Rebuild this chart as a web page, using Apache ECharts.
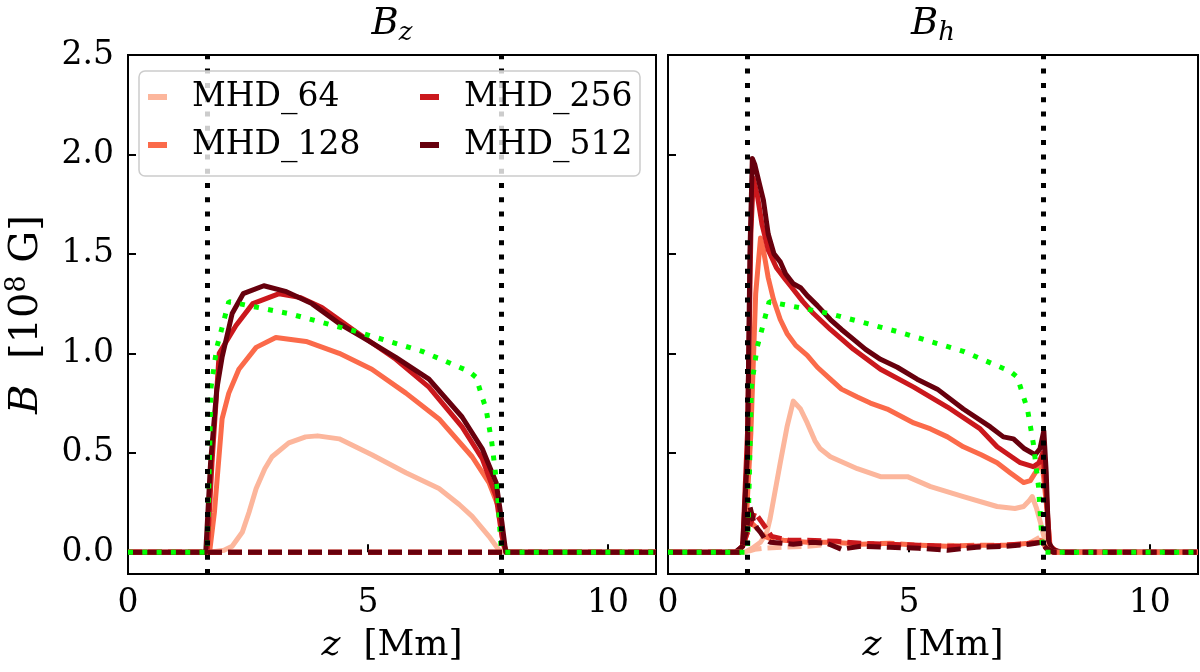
<!DOCTYPE html>
<html>
<head>
    <meta charset="utf-8">
    <title>Bz / Bh profiles</title>
    <script src="https://cdn.jsdelivr.net/npm/echarts@6/dist/echarts.min.js"></script>
</head>
<body style="margin:0;background:#fff;">
    <div id="main" style="width:1200px;height:672px;"></div>
    <script type="text/javascript">
        // ---- data: [z (Mm), B (1e8 G)] ----
        var runNames = ['MHD_64', 'MHD_128', 'MHD_256', 'MHD_512'];
        var runColors = ['#fcb69c', '#fb6a4a', '#cb181d', '#67000d'];

        // left panel, B_z (solid)
        var bz64 = [[0,0],[1.7,0],[2.0,0.01],[2.17,0.03],[2.38,0.1],[2.52,0.2],[2.67,0.32],[2.85,0.42],[3.0,0.48],[3.35,0.55],[3.7,0.58],[3.95,0.585],[4.4,0.57],[5.08,0.49],[5.79,0.40],[6.48,0.32],[6.9,0.24],[7.17,0.18],[7.52,0.08],[7.73,0.01],[7.85,0],[11,0]];
        var bz128 = [[0,0],[1.7,0],[1.8,0.2],[1.96,0.67],[2.1,0.8],[2.31,0.92],[2.67,1.03],[3.08,1.08],[3.71,1.06],[4.4,1.0],[5.08,0.92],[5.79,0.80],[6.48,0.67],[7.17,0.48],[7.52,0.35],[7.73,0.22],[7.83,0.03],[7.9,0],[11,0]];
        var bz256 = [[0,0],[1.65,0],[1.75,0.45],[1.9,1.0],[2.25,1.14],[2.6,1.25],[3.15,1.30],[3.6,1.28],[4.04,1.23],[4.8,1.10],[5.58,0.97],[6.27,0.83],[6.96,0.63],[7.38,0.47],[7.67,0.28],[7.79,0.08],[7.88,0],[11,0]];
        var bz512 = [[0,0],[1.62,0],[1.72,0.45],[1.85,0.82],[1.96,0.98],[2.17,1.2],[2.4,1.3],[2.83,1.34],[3.3,1.31],[3.83,1.25],[4.4,1.15],[4.96,1.07],[5.58,0.98],[6.27,0.87],[6.96,0.68],[7.38,0.52],[7.67,0.35],[7.79,0.15],[7.87,0],[11,0]];
        // left panel, dashed component (flat at zero)
        var bzDashed = [[0,0],[11,0]];

        // right panel, B_h (solid)
        var bh64 = [[0,0],[1.6,0],[1.75,0.02],[1.92,0.05],[2.05,0.1],[2.12,0.17],[2.33,0.45],[2.47,0.63],[2.6,0.76],[2.75,0.72],[2.89,0.65],[3.05,0.56],[3.16,0.52],[3.37,0.48],[3.65,0.45],[3.93,0.42],[4.41,0.38],[4.97,0.38],[5.45,0.33],[6.13,0.28],[6.83,0.23],[7.2,0.22],[7.38,0.23],[7.5,0.26],[7.56,0.28],[7.65,0.22],[7.73,0.15],[7.85,0.03],[7.95,0],[11,0]];
        var bh128 = [[0,0],[1.45,0],[1.6,0.05],[1.72,0.6],[1.82,1.3],[1.92,1.58],[1.98,1.52],[2.08,1.38],[2.19,1.27],[2.33,1.17],[2.47,1.10],[2.65,1.04],[2.89,0.99],[3.1,0.93],[3.37,0.87],[3.6,0.82],[3.93,0.78],[4.2,0.75],[4.55,0.72],[5.1,0.65],[5.45,0.62],[5.8,0.58],[6.13,0.53],[6.5,0.49],[6.83,0.45],[7.1,0.40],[7.38,0.35],[7.52,0.36],[7.65,0.41],[7.76,0.46],[7.85,0.25],[7.93,0.03],[8.1,0],[11,0]];
        var bh256 = [[0,0],[1.4,0],[1.55,0.03],[1.65,0.6],[1.72,1.6],[1.77,1.88],[1.85,1.8],[1.95,1.65],[2.08,1.52],[2.25,1.43],[2.44,1.37],[2.54,1.34],[2.8,1.26],[3.02,1.20],[3.37,1.12],[3.85,1.02],[4.41,0.92],[5.1,0.83],[5.8,0.73],[6.48,0.62],[6.83,0.53],[7.31,0.45],[7.58,0.43],[7.7,0.45],[7.78,0.5],[7.85,0.3],[7.92,0.03],[8.1,0],[11,0]];
        var bh512 = [[0,0],[1.4,0],[1.55,0.03],[1.65,0.5],[1.7,1.5],[1.75,1.98],[1.8,1.95],[1.9,1.85],[1.98,1.77],[2.08,1.6],[2.2,1.5],[2.33,1.46],[2.44,1.40],[2.6,1.35],[2.75,1.33],[2.89,1.29],[3.1,1.24],[3.37,1.17],[3.6,1.12],[3.85,1.07],[4.1,1.02],[4.41,0.97],[4.76,0.93],[5.17,0.87],[5.59,0.82],[6.13,0.72],[6.69,0.63],[6.96,0.58],[7.17,0.57],[7.4,0.52],[7.62,0.49],[7.72,0.52],[7.8,0.61],[7.85,0.4],[7.9,0.05],[8.0,0.01],[8.2,0],[11,0]];
        // right panel, dashed component
        var bhDash64 = [[0,0],[1.6,0],[1.8,0.015],[2.0,0.02],[2.4,0.025],[2.9,0.03],[3.4,0.04],[4.0,0.035],[4.6,0.04],[5.2,0.03],[5.8,0.035],[6.4,0.03],[7.0,0.035],[7.5,0.045],[7.75,0.08],[7.85,0.02],[8.0,0],[11,0]];
        var bhDash128 = [[0,0],[1.5,0],[1.62,0.08],[1.72,0.15],[1.85,0.12],[2.0,0.08],[2.1,0.07],[2.4,0.06],[2.9,0.05],[3.4,0.05],[4.0,0.04],[4.6,0.045],[5.2,0.035],[5.8,0.03],[6.4,0.035],[7.0,0.035],[7.5,0.045],[7.75,0.06],[7.85,0.02],[8.0,0],[11,0]];
        var bhDash256 = [[0,0],[1.5,0],[1.65,0.1],[1.8,0.2],[1.95,0.15],[2.15,0.08],[2.5,0.06],[2.9,0.06],[3.5,0.055],[4.0,0.045],[4.6,0.04],[5.2,0.035],[5.8,0.03],[6.4,0.03],[7.0,0.035],[7.5,0.045],[7.75,0.05],[7.85,0.02],[8.0,0],[11,0]];
        var bhDash512 = [[0,0],[1.5,0],[1.62,0.1],[1.7,0.23],[1.78,0.15],[1.85,0.12],[1.92,0.1],[2.0,0.07],[2.12,0.05],[2.6,0.04],[3.0,0.05],[3.3,0.045],[3.6,0.015],[4.0,0.03],[4.6,0.025],[5.2,0.02],[5.8,0.01],[6.4,0.025],[7.0,0.03],[7.5,0.04],[7.75,0.05],[7.85,0.02],[8.0,0],[11,0]];

        // reference profile (green dotted), same in both panels
        var refProfile = [[0,0],[1.65,0],[1.7,0.5],[1.73,0.83],[1.85,1.03],[1.96,1.13],[2.1,1.26],[2.3,1.25],[3.35,1.20],[4.75,1.11],[6.13,1.01],[7.1,0.91],[7.25,0.88],[7.38,0.78],[7.46,0.72],[7.58,0.55],[7.69,0.33],[7.77,0.03],[7.8,0],[11,0]];
        // vertical black dotted markers
        var zoneEdges = [1.65, 7.78];

        var xTicks = [0, 5, 10];
        var yTicks = [0, 0.5, 1.0, 1.5, 2.0, 2.5];

        var myChart = echarts.init(document.getElementById('main'));

        var fontFam = 'DejaVu Serif';
        var dotted = [5, 9.3];
        var dashed = [14, 6];

        function makeX(idx) {
            return {
                type: 'value', gridIndex: idx, min: 0, max: 11,
                axisLine: { show: false },
                splitLine: { show: false },
                axisTick: { inside: true, length: 8, customValues: xTicks, lineStyle: { color: '#000', width: 2 } },
                axisLabel: { customValues: xTicks, margin: 13, color: '#000', fontFamily: fontFam, fontSize: 33 },
                name: '{i|z}  [Mm]', nameLocation: 'middle', nameGap: 48,
                nameTextStyle: { color: '#000', fontFamily: fontFam, fontSize: 36, lineHeight: 42,
                    rich: { i: { fontFamily: fontFam, fontStyle: 'italic', fontSize: 36, lineHeight: 42 } } }
            };
        }
        function makeY(idx, withLabels) {
            var ax = {
                type: 'value', gridIndex: idx, min: -0.11, max: 2.5,
                axisLine: { show: false },
                splitLine: { show: false },
                axisTick: { inside: true, length: 8, customValues: yTicks, lineStyle: { color: '#000', width: 2 } },
                axisLabel: { show: withLabels, customValues: yTicks, margin: 14, color: '#000', fontFamily: fontFam, fontSize: 33,
                    formatter: function (v) { return v.toFixed(1); } }
            };
            if (withLabels) {
                // B  [10^8 G]
                ax.name = '{i|B}  [10{sup|8} G]';
                ax.nameLocation = 'middle';
                ax.nameGap = 78;
                ax.nameTextStyle = { color: '#000', fontFamily: fontFam, fontSize: 40, lineHeight: 46,
                    rich: {
                        i: { fontFamily: fontFam, fontStyle: 'italic', fontSize: 40, lineHeight: 46 },
                        sup: { fontFamily: fontFam, fontSize: 27, lineHeight: 27, verticalAlign: 'top' }
                    } };
            }
            return ax;
        }

        var series = [];
        function addRuns(idx, solids, dashes) {
            var i;
            for (i = 0; i < solids.length; i++) {
                series.push({
                    name: runNames[i], type: 'line', xAxisIndex: idx, yAxisIndex: idx,
                    data: solids[i], showSymbol: false, symbol: 'none', color: runColors[i],
                    lineStyle: { color: runColors[i], width: 5, join: 'round' }, z: 2
                });
            }
            for (i = 0; i < dashes.length; i++) {
                series.push({
                    name: runNames[i], type: 'line', xAxisIndex: idx, yAxisIndex: idx,
                    data: dashes[i], showSymbol: false, symbol: 'none', color: runColors[i],
                    lineStyle: { color: runColors[i], width: 5, type: dashed }, z: 3
                });
            }
            series.push({
                name: 'reference', type: 'line', xAxisIndex: idx, yAxisIndex: idx,
                data: refProfile, showSymbol: false, symbol: 'none',
                lineStyle: { color: '#00ff00', width: 5, type: dotted }, z: 4
            });
            series.push({
                name: 'edges', type: 'line', xAxisIndex: idx, yAxisIndex: idx, data: [], z: 5,
                markLine: {
                    silent: true, symbol: 'none', label: { show: false },
                    lineStyle: { color: '#000', width: 5, type: dotted },
                    data: zoneEdges.map(function (e) { return { xAxis: e }; })
                }
            });
        }
        addRuns(0, [bz64, bz128, bz256, bz512], [bzDashed, bzDashed, bzDashed, bzDashed]);
        addRuns(1, [bh64, bh128, bh256, bh512], [bhDash64, bhDash128, bhDash256, bhDash512]);

        var legendText = { color: '#000', fontFamily: fontFam, fontSize: 33, lineHeight: 36, padding: [0, 0, 0, 20] };

        option = {
            backgroundColor: '#fff',
            animation: false,
            grid: [
                { left: 128, top: 55, width: 528, height: 520, show: true, borderColor: '#000', borderWidth: 2, backgroundColor: 'transparent' },
                { left: 668, top: 55, width: 530, height: 520, show: true, borderColor: '#000', borderWidth: 2, backgroundColor: 'transparent' }
            ],
            xAxis: [makeX(0), makeX(1)],
            yAxis: [makeY(0, true), makeY(1, false)],
            legend: [
                { data: runNames.slice(0, 2), orient: 'vertical', left: 148, top: 79, padding: 0, itemGap: 12,
                  icon: 'rect', itemWidth: 19, itemHeight: 6, textStyle: legendText, selectedMode: false, z: 20 },
                { data: runNames.slice(2, 4), orient: 'vertical', left: 420, top: 79, padding: 0, itemGap: 12,
                  icon: 'rect', itemWidth: 19, itemHeight: 6, textStyle: legendText, selectedMode: false, z: 20 }
            ],
            graphic: [
                // legend frame
                { type: 'rect', z: 15, shape: { x: 139, y: 71, width: 501, height: 105, r: 6 },
                  style: { fill: 'rgba(255,255,255,0.8)', stroke: '#cccccc', lineWidth: 1.5 } },
                // panel titles
                { type: 'text', z: 20, x: 392, y: 24,
                  style: { text: '{b|B}{s|z}', align: 'center', verticalAlign: 'middle',
                           rich: { b: { fontFamily: fontFam, fontStyle: 'italic', fontSize: 37, lineHeight: 44, fill: '#000' },
                                   s: { fontFamily: fontFam, fontStyle: 'italic', fontSize: 26, lineHeight: 26, verticalAlign: 'bottom', fill: '#000' } } } },
                { type: 'text', z: 20, x: 933, y: 24,
                  style: { text: '{b|B}{s|h}', align: 'center', verticalAlign: 'middle',
                           rich: { b: { fontFamily: fontFam, fontStyle: 'italic', fontSize: 37, lineHeight: 44, fill: '#000' },
                                   s: { fontFamily: fontFam, fontStyle: 'italic', fontSize: 26, lineHeight: 26, verticalAlign: 'bottom', fill: '#000' } } } }
            ],
            series: series
        };

        myChart.setOption(option);
    </script>
</body>
</html>
